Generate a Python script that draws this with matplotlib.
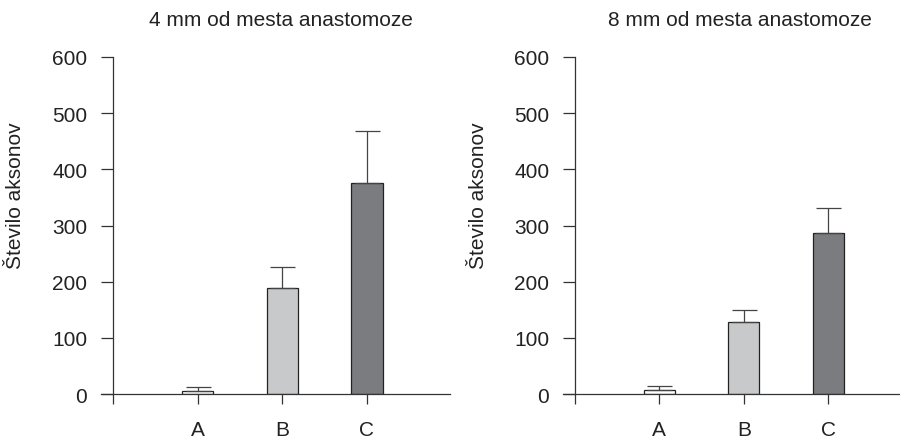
import matplotlib
matplotlib.use("Agg")
import matplotlib.pyplot as plt

plt.rcParams['font.family'] = ['Liberation Sans', 'DejaVu Sans']

groups = ["A", "B", "C"]
colors = ["#ffffff", "#c8c9cb", "#7b7c80"]

titles = ["4 mm od mesta anastomoze", "8 mm od mesta anastomoze"]
means_4mm = [5, 188, 375]
err_4mm = [7, 38, 93]
means_8mm = [7, 128, 287]
err_8mm = [7, 21, 45]

panels = [(titles[0], means_4mm, err_4mm), (titles[1], means_8mm, err_8mm)]
axes_pos = [[0.1122, 0.1002, 0.3878, 0.7677], [0.6256, 0.1002, 0.3744, 0.7677]]
title_x = [281 / 900, 740 / 900]
ylabel_x = [16 / 900, 478 / 900]
xmax = [3.98, 3.85]

line_col = "#333333"
text_col = "#222222"
fs = 15

fig = plt.figure(figsize=(9, 4.39), dpi=100)

for i, (title, means, errs) in enumerate(panels):
    ax = fig.add_axes(axes_pos[i])
    x = [1, 2, 3]
    ax.bar(x, means, width=0.37, color=colors, edgecolor="#222222", linewidth=0.9,
           yerr=[[0, 0, 0], errs], error_kw=dict(ecolor="#444444", elinewidth=0.9,
                                                   capsize=9, capthick=0.9), zorder=2)
    ax.set_xlim(-0.14, xmax[i])
    ax.set_ylim(0, 600)
    ax.spines['top'].set_visible(False)
    ax.spines['right'].set_visible(False)
    ax.spines['left'].set_position(('data', 0))
    for s in ['left', 'bottom']:
        ax.spines[s].set_color(line_col)
        ax.spines[s].set_linewidth(0.9)
    ax.set_xticks([0, 1, 2, 3])
    ax.set_xticklabels([""] + groups)
    ax.set_yticks(range(0, 601, 100))
    ax.tick_params(axis='x', length=7, width=0.9, color=line_col, pad=12,
                   labelsize=fs, labelcolor=text_col)
    ax.tick_params(axis='y', length=8.5, width=0.9, color=line_col, pad=10,
                   labelsize=fs, labelcolor=text_col)
    fig.text(ylabel_x[i], 1 - 196 / 439, "Število aksonov", rotation=90,
             ha='center', va='center', fontsize=fs, color=text_col)
    fig.text(title_x[i], 1 - 20 / 439, title, ha='center', va='center',
             fontsize=fs, color=text_col)

fig.savefig("out.png", dpi=100)
